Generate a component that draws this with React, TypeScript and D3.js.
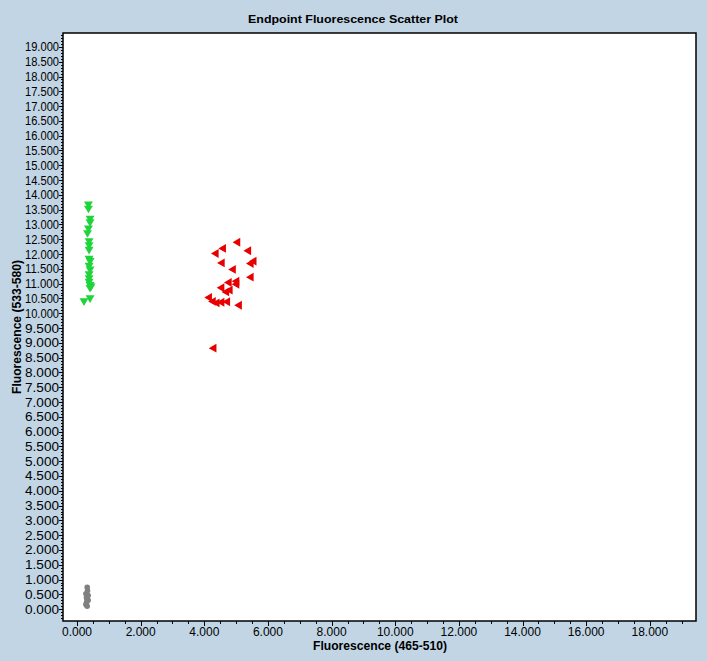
import { useEffect, useRef } from 'react'
import * as d3 from 'd3'

// Endpoint fluorescence values (465-510 on x, 533-580 on y)
const greenX = [0.36, 0.36, 0.41, 0.41, 0.36, 0.33, 0.38, 0.38, 0.38, 0.38, 0.41, 0.38, 0.41, 0.38, 0.38, 0.38, 0.41, 0.41, 0.44, 0.22, 0.41]
const greenY = [13.69, 13.55, 13.21, 13.09, 12.88, 12.72, 12.45, 12.31, 12.16, 11.86, 11.78, 11.62, 11.49, 11.33, 11.20, 11.08, 10.97, 10.87, 10.92, 10.42, 10.52]

const redX = [5.05, 4.60, 4.37, 5.39, 4.56, 5.47, 5.56, 4.91, 5.47, 5.02, 4.78, 5.02, 4.55, 4.81, 4.70, 4.16, 4.28, 4.40, 4.55, 4.73, 5.10, 4.30]
const redY = [12.40, 12.19, 12.02, 12.11, 11.70, 11.68, 11.76, 11.48, 11.22, 11.08, 11.04, 10.98, 10.86, 10.78, 10.72, 10.53, 10.40, 10.35, 10.37, 10.39, 10.27, 8.82]

const grayX = [0.32, 0.28, 0.30, 0.35, 0.28, 0.32, 0.35, 0.30, 0.33, 0.31]
const grayY = [0.74, 0.52, 0.40, 0.30, 0.16, 0.10, 0.46, 0.22, 0.62, 0.34]

const xMajor = [0, 2, 4, 6, 8, 10, 12, 14, 16, 18]
const yMajor = d3.range(0, 19.01, 0.5)

export default function App() {
  const svgRef = useRef<SVGSVGElement>(null)
  const width = 707
  const height = 661

  useEffect(() => {
    if (!svgRef.current) return
    const svg = d3.select(svgRef.current)
    svg.selectAll('*').remove()

    const left = 63, right = 696, top = 33, bottom = 621
    const x = d3.scaleLinear().domain([-0.44, 19.45]).range([left, right])
    const y = d3.scaleLinear().domain([-0.4, 19.47]).range([bottom, top])

    const font = 'Liberation Sans, Arial, sans-serif'

    svg.append('rect').attr('width', width).attr('height', height).attr('fill', '#c1d5e5')

    svg.append('text')
      .attr('x', 353).attr('y', 23)
      .attr('text-anchor', 'middle')
      .attr('font-family', font)
      .attr('font-weight', 'bold').attr('font-size', '11px')
      .attr('textLength', 210).attr('lengthAdjust', 'spacingAndGlyphs')
      .text('Endpoint Fluorescence Scatter Plot')

    // plot area
    svg.append('rect')
      .attr('x', left).attr('y', top)
      .attr('width', right - left).attr('height', bottom - top)
      .attr('fill', '#fff').attr('stroke', '#000').attr('stroke-width', 1.5)

    // y ticks
    const yMinor = d3.range(-0.3, 19.45, 0.1)
    const ya = svg.append('g')
    ya.selectAll('line.minor').data(yMinor).join('line')
      .attr('x1', left - 2).attr('x2', left)
      .attr('y1', d => Math.round(y(d)) + 0.5).attr('y2', d => Math.round(y(d)) + 0.5)
      .attr('stroke', '#000').attr('stroke-width', 1)
    ya.selectAll('line.major').data(yMajor).join('line')
      .attr('x1', left - 4).attr('x2', left)
      .attr('y1', d => Math.round(y(d)) + 0.5).attr('y2', d => Math.round(y(d)) + 0.5)
      .attr('stroke', '#000').attr('stroke-width', 1)
    ya.selectAll('text').data(yMajor).join('text')
      .attr('x', left - 4).attr('y', d => y(d) + 4.5)
      .attr('text-anchor', 'end')
      .attr('font-family', font).attr('font-size', '12px').attr('fill', '#000')
      .attr('textLength', 34).attr('lengthAdjust', 'spacingAndGlyphs')
      .text(d => d3.format('.3f')(d))

    // x ticks
    const xMinor = d3.range(0, 19.45, 0.5)
    const xa = svg.append('g')
    xa.selectAll('line.minor').data(xMinor).join('line')
      .attr('x1', d => Math.round(x(d)) + 0.5).attr('x2', d => Math.round(x(d)) + 0.5)
      .attr('y1', bottom).attr('y2', bottom + 3)
      .attr('stroke', '#000')
    xa.selectAll('line.major').data(xMajor).join('line')
      .attr('x1', d => Math.round(x(d)) + 0.5).attr('x2', d => Math.round(x(d)) + 0.5)
      .attr('y1', bottom).attr('y2', bottom + 5)
      .attr('stroke', '#000')
    xa.selectAll('text').data(xMajor).join('text')
      .attr('x', d => x(d)).attr('y', bottom + 15)
      .attr('text-anchor', 'middle')
      .attr('font-family', font).attr('font-size', '12px').attr('fill', '#000')
      .text(d => d3.format('.3f')(d))

    // axis titles
    svg.append('text')
      .attr('x', 380).attr('y', 650)
      .attr('text-anchor', 'middle')
      .attr('font-family', font).attr('font-weight', 'bold').attr('font-size', '12px')
      .attr('textLength', 134).attr('lengthAdjust', 'spacingAndGlyphs')
      .text('Fluorescence (465-510)')
    svg.append('text')
      .attr('transform', `translate(21,${327}) rotate(-90)`)
      .attr('text-anchor', 'middle')
      .attr('font-family', font).attr('font-weight', 'bold').attr('font-size', '12px')
      .attr('textLength', 134).attr('lengthAdjust', 'spacingAndGlyphs')
      .text('Fluorescence (533-580)')

    const tri = d3.symbol().type(d3.symbolTriangle).size(34)

    // gray (no call)
    svg.append('g').selectAll('circle').data(grayX.map((v, i) => [v, grayY[i]]))
      .join('circle')
      .attr('cx', d => x(d[0])).attr('cy', d => y(d[1]))
      .attr('r', 2.8).attr('fill', '#808080')

    // green, pointing down
    svg.append('g').selectAll('path').data(greenX.map((v, i) => [v, greenY[i]]))
      .join('path')
      .attr('d', tri)
      .attr('transform', d => `translate(${x(d[0])},${y(d[1])}) rotate(180)`)
      .attr('fill', '#1fd33a')

    // red, pointing left
    svg.append('g').selectAll('path').data(redX.map((v, i) => [v, redY[i]]))
      .join('path')
      .attr('d', tri)
      .attr('transform', d => `translate(${x(d[0])},${y(d[1])}) rotate(-90)`)
      .attr('fill', '#e80000')
  }, [])

  return (
    <div style={{ position: 'fixed', left: 0, top: 0 }}>
      <svg ref={svgRef} width={width} height={height} style={{ display: 'block' }} />
    </div>
  )
}
